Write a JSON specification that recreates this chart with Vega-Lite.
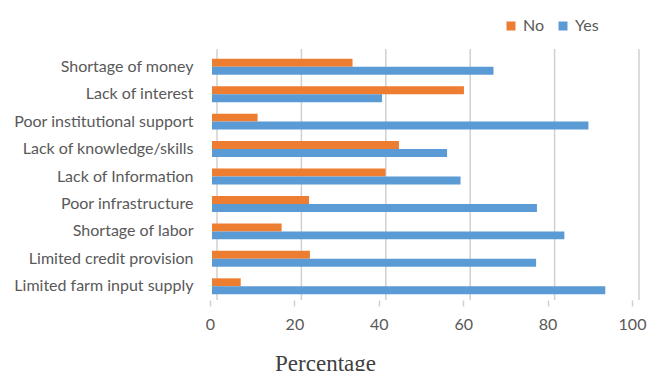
{
  "$schema": "https://vega.github.io/schema/vega-lite/v6.json",
  "width": 422,
  "height": 247,
  "autosize": {"type": "none"},
  "padding": {"left": 210, "top": 53, "right": 27, "bottom": 71},
  "background": "white",
  "config": {"view": {"stroke": null}, "font": "Lato"},
  "datasets": {
    "bars": [
      {"reason": "Shortage of money", "answer": "No", "pct": 33.3},
      {"reason": "Shortage of money", "answer": "Yes", "pct": 66.7},
      {"reason": "Lack of interest", "answer": "No", "pct": 59.7},
      {"reason": "Lack of interest", "answer": "Yes", "pct": 40.3},
      {"reason": "Poor institutional support", "answer": "No", "pct": 10.8},
      {"reason": "Poor institutional support", "answer": "Yes", "pct": 89.2},
      {"reason": "Lack of knowledge/skills", "answer": "No", "pct": 44.3},
      {"reason": "Lack of knowledge/skills", "answer": "Yes", "pct": 55.7},
      {"reason": "Lack of Information", "answer": "No", "pct": 41.1},
      {"reason": "Lack of Information", "answer": "Yes", "pct": 58.9},
      {"reason": "Poor infrastructure", "answer": "No", "pct": 23.0},
      {"reason": "Poor infrastructure", "answer": "Yes", "pct": 77.0},
      {"reason": "Shortage of labor", "answer": "No", "pct": 16.5},
      {"reason": "Shortage of labor", "answer": "Yes", "pct": 83.5},
      {"reason": "Limited credit  provision", "answer": "No", "pct": 23.2},
      {"reason": "Limited credit  provision", "answer": "Yes", "pct": 76.8},
      {"reason": "Limited farm input supply", "answer": "No", "pct": 6.8},
      {"reason": "Limited farm input supply", "answer": "Yes", "pct": 93.2}
    ],
    "grid": [{"v": 0}, {"v": 20}, {"v": 40}, {"v": 60}, {"v": 80}, {"v": 100}]
  },
  "layer": [
    {
      "data": {"name": "grid"},
      "mark": {"type": "rule", "color": "#d0d0d0", "strokeWidth": 1.5, "xOffset": 7, "yOffset": -4, "y2Offset": -2},
      "encoding": {
        "x": {"field": "v", "type": "quantitative", "scale": {"domain": [0, 100]}}
      }
    },
    {
      "data": {"name": "bars"},
      "mark": {"type": "bar", "xOffset": 2, "stroke": null},
      "encoding": {
        "y": {
          "field": "reason", "type": "nominal", "sort": null,
          "scale": {"paddingInner": 0.42, "paddingOuter": 0.21},
          "axis": {"title": null, "ticks": false, "domain": false, "labelPadding": 17, "labelFont": "Lato", "labelFontSize": 16, "labelColor": "#595959"}
        },
        "yOffset": {"field": "answer", "type": "nominal", "sort": ["No", "Yes"], "scale": {"paddingInner": 0, "paddingOuter": 0}},
        "x": {
          "field": "pct", "type": "quantitative",
          "scale": {"domain": [0, 100]},
          "axis": {
            "values": [0, 20, 40, 60, 80, 100], "grid": false, "domain": false, "labelFlush": false,
            "ticks": true, "tickColor": "#d0d0d0", "tickSize": 6, "tickWidth": 1.5,
            "labelPadding": 10, "labelFont": "Lato", "labelFontSize": 16, "labelColor": "#595959",
            "title": "Percentage", "titleFont": "Liberation Serif", "titleFontSize": 23, "titleFontWeight": "normal",
            "titleColor": "#404040", "titleX": 115, "titleY": 70, "titleAnchor": null, "titleAlign": "center", "titleBaseline": "alphabetic"
          }
        },
        "color": {
          "field": "answer", "type": "nominal",
          "scale": {"domain": ["No", "Yes"], "range": ["#ED7D31", "#5B9BD5"]},
          "legend": {
            "title": null, "orient": "none", "direction": "horizontal", "legendX": 293, "legendY": -35,
            "symbolType": "square", "symbolSize": 81, "symbolStrokeWidth": 0, "labelFont": "Lato", "labelFontSize": 16,
            "labelColor": "#595959", "labelOffset": 4, "columnPadding": 10
          }
        }
      }
    }
  ]
}
